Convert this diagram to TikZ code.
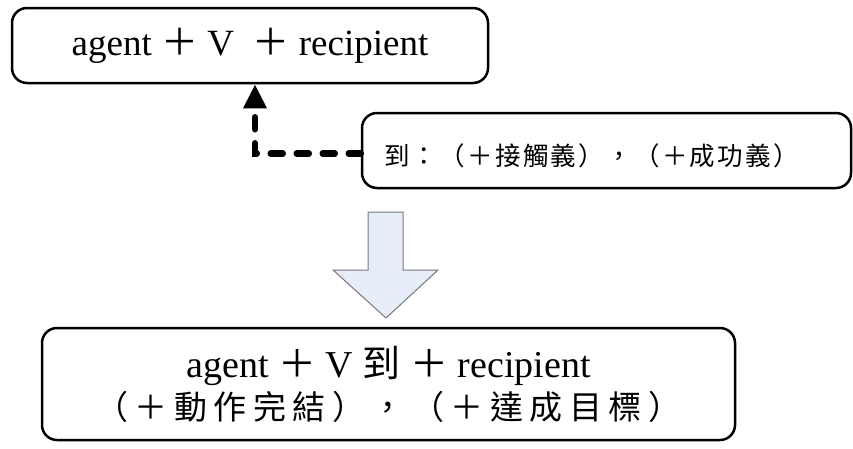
\documentclass[tikz,border=0pt]{standalone}
\usepackage{fontspec}
\setmainfont{Liberation Serif}
\newfontfamily\cjk{Noto Sans CJK TC}
\usetikzlibrary{arrows.meta}
\newlength\cjkw
\newcommand\cjkeach[1]{\ifx#1\relax\else\makebox[\cjkw]{#1}\expandafter\cjkeach\fi}
\definecolor{arrowfill}{RGB}{230,237,248}
\definecolor{arrowline}{RGB}{120,120,120}
\tikzset{
  rbox/.style={draw=black, line width=2.5pt, rounded corners=15pt, inner sep=0pt, align=center},
  dashconn/.style={line width=6.5pt, line cap=round, dash pattern=on 12pt off 14pt,
    -{Triangle[length=24pt,width=22pt]}},
  bigarrow/.style={fill=arrowfill, draw=arrowline, line width=1pt, line join=miter}
}
\begin{document}
\begin{tikzpicture}[x=1pt,y=1pt]
\useasboundingbox (0,0) rectangle (853,-448);
\node[rbox, minimum width=476pt, minimum height=75pt, font=\fontsize{37}{40}\selectfont]
  (top) at (250,-45.5) {agent {\cjk ＋} V\ \ {\cjk ＋} recipient};
\node[rbox, minimum width=489pt, minimum height=75pt]
  (mid) at (606.5,-150.5) {\raisebox{-15pt}[0pt][0pt]{\cjk\fontsize{25.5}{28}\selectfont\setlength\cjkw{27.8pt}\cjkeach 到：（＋接觸義），（＋成功義）\relax}\hspace*{30pt}};
\node[rbox, minimum width=693pt, minimum height=112pt, font=\fontsize{38}{42}\selectfont]
  (bot) at (388.5,-384) {agent {\cjk ＋} V {\cjk 到} {\cjk ＋} recipient\\
  {\cjk\fontsize{33}{42}\selectfont\setlength\cjkw{39.5pt}\cjkeach （＋動作完結），（＋達成目標）\relax}};
\draw[dashconn] ([yshift=-3pt]mid.west) -| ([xshift=5pt]top.south);
\draw[bigarrow] (368,-212) -- (403,-212) -- (403,-270) -- (438,-270) -- (386,-318)
  -- (333,-270) -- (368,-270) -- cycle;
\end{tikzpicture}
\end{document}
